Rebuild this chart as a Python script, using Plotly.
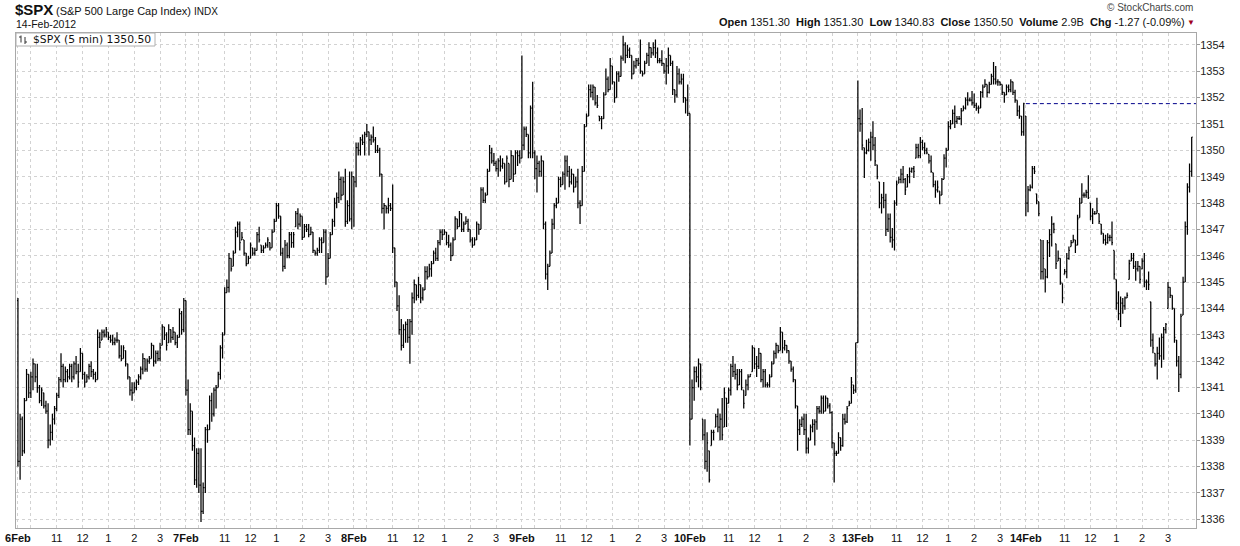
import plotly.graph_objects as go

# ---------------- data: $SPX 5-minute bars, 78 bars per session ----------------
day_labels = ["6Feb", "7Feb", "8Feb", "9Feb", "10Feb", "13Feb", "14Feb"]
hour_labels = ["", "11", "12", "1", "2", "3"]          # 10:00 grid line has no label
hour_offsets = [6, 18, 30, 42, 54, 66]                 # bars after the 9:30 open
bars_per_day = 78
first_open = 1344.3
volume_text = "2.9B"

feb06_high = [1344.4,1340.0,1339.9,1340.6,1341.7,1341.5,1341.6,1342.1,1341.9,1341.9,
              1341.1,1341.0,1340.8,1340.5,1340.4,1339.6,1340.0,1340.3,1340.8,1341.4,
              1342.3,1341.9,1341.8,1341.7,1341.9,1341.9,1342.0,1342.2,1341.9,1342.5,
              1342.3,1341.6,1341.5,1341.9,1342.0,1341.7,1341.6,1343.2,1343.1,1343.2,
              1343.2,1343.3,1343.1,1343.0,1343.0,1342.9,1343.1,1342.8,1342.6,1342.6,
              1342.4,1341.9,1341.4,1341.2,1341.2,1341.3,1341.5,1341.8,1342.3,1342.1,
              1342.1,1342.2,1342.7,1342.6,1342.4,1342.4,1342.7,1343.4,1343.3,1343.1,
              1343.4,1343.2,1343.3,1343.1,1343.0,1344.0,1343.9,1344.4]
feb06_low = [1338.0,1337.5,1338.4,1338.5,1340.5,1340.6,1340.6,1340.9,1341.2,1340.8,
             1340.4,1340.3,1340.2,1340.0,1338.7,1338.8,1339.0,1339.6,1340.1,1340.6,
             1341.2,1341.0,1341.2,1341.2,1341.3,1341.2,1341.3,1341.5,1341.0,1341.6,
             1341.3,1341.0,1341.2,1341.3,1341.4,1341.3,1341.2,1341.3,1342.5,1342.8,
             1342.9,1342.9,1342.8,1342.7,1342.6,1342.6,1342.7,1342.1,1342.0,1342.1,
             1341.8,1341.3,1340.7,1340.5,1340.8,1340.9,1341.1,1341.3,1341.5,1341.6,
             1341.6,1341.9,1342.1,1341.8,1341.9,1342.0,1342.0,1342.6,1342.8,1342.4,
             1342.7,1342.7,1342.8,1342.6,1342.5,1342.9,1343.0,1343.1]
feb06_close = [1338.2,1339.8,1338.6,1340.5,1341.5,1340.8,1341.4,1341.9,1341.4,1341.0,
               1340.5,1340.9,1340.3,1340.1,1339.0,1339.3,1339.8,1340.2,1340.7,1341.3,
               1341.8,1341.3,1341.6,1341.4,1341.8,1341.4,1341.9,1341.6,1341.2,1342.3,
               1341.5,1341.2,1341.4,1341.8,1341.6,1341.5,1341.3,1342.9,1342.7,1343.1,
               1343.0,1343.2,1342.9,1342.8,1342.7,1342.8,1342.8,1342.2,1342.1,1342.5,
               1341.9,1341.4,1340.9,1340.8,1341.0,1341.2,1341.4,1341.7,1342.1,1341.7,
               1342.0,1342.1,1342.6,1342.0,1342.3,1342.1,1342.5,1343.3,1343.0,1342.6,
               1343.2,1342.9,1343.1,1342.7,1342.9,1343.8,1343.2,1344.3]

feb07_high = [1344.3,1341.3,1340.4,1340.1,1339.1,1338.7,1338.7,1338.7,1337.4,1339.5,
              1339.6,1340.7,1340.8,1341.0,1341.1,1341.6,1342.6,1343.1,1344.8,1345.1,
              1346.1,1345.9,1346.2,1347.1,1347.3,1347.3,1346.9,1346.6,1346.1,1346.0,
              1346.5,1346.3,1346.3,1346.9,1347.1,1346.4,1346.4,1346.5,1346.7,1346.5,
              1347.0,1347.4,1348.0,1348.0,1347.5,1346.3,1346.6,1346.5,1346.9,1346.9,
              1346.9,1347.7,1347.8,1347.6,1347.5,1347.2,1347.2,1347.2,1347.1,1346.9,
              1346.2,1346.3,1346.7,1346.7,1347.0,1347.0,1346.1,1346.9,1347.4,1348.2,
              1348.4,1349.2,1349.0,1349.0,1349.3,1348.1,1349.2,1349.2]
feb07_low = [1340.7,1339.2,1339.2,1338.6,1337.3,1337.2,1337.0,1335.9,1336.2,1337.0,
             1338.9,1339.4,1339.7,1339.9,1340.2,1341.0,1341.3,1342.1,1343.0,1344.6,
             1344.6,1345.4,1345.6,1346.1,1346.7,1346.2,1346.6,1346.0,1345.6,1345.7,
             1345.9,1346.0,1346.0,1346.2,1346.5,1346.1,1346.1,1346.3,1346.3,1346.2,
             1346.3,1346.9,1347.3,1347.4,1346.0,1345.4,1345.5,1345.9,1345.9,1346.3,
             1346.3,1347.1,1347.0,1347.1,1346.6,1346.7,1346.9,1346.7,1346.8,1346.1,
             1346.0,1346.0,1346.1,1346.1,1346.5,1344.9,1345.2,1345.9,1346.8,1347.1,
             1347.8,1348.0,1348.1,1348.3,1347.1,1347.2,1347.3,1347.0]
feb07_close = [1340.9,1339.4,1340.1,1338.8,1337.5,1338.5,1337.3,1336.3,1337.2,1339.4,
               1339.4,1340.5,1340.0,1340.9,1341.0,1341.5,1342.5,1343.0,1344.6,1344.8,
               1345.9,1345.5,1346.1,1346.9,1347.2,1346.5,1346.7,1346.1,1345.7,1345.9,
               1346.4,1346.1,1346.2,1346.8,1346.6,1346.2,1346.3,1346.4,1346.6,1346.3,
               1346.9,1347.3,1347.9,1347.5,1346.1,1345.6,1346.4,1346.0,1346.8,1346.5,
               1346.8,1347.6,1347.2,1347.5,1346.7,1347.1,1347.0,1346.8,1346.9,1346.2,
               1346.1,1346.2,1346.6,1346.5,1346.9,1345.2,1345.9,1346.8,1347.3,1348.0,
               1348.2,1348.9,1348.3,1348.8,1347.3,1347.9,1347.4,1349.0]

feb08_high = [1349.0,1350.3,1350.3,1350.5,1350.6,1350.7,1351.0,1350.7,1350.6,1350.9,
              1350.5,1350.2,1350.1,1349.1,1348.0,1347.9,1348.2,1348.0,1348.7,1346.3,
              1345.0,1344.5,1343.6,1343.4,1343.5,1343.6,1343.6,1344.6,1345.1,1344.9,
              1345.2,1344.9,1344.8,1345.6,1345.6,1345.7,1345.8,1346.2,1346.3,1346.6,
              1347.0,1347.0,1347.0,1346.9,1346.8,1346.5,1346.7,1347.5,1347.4,1347.7,
              1347.6,1347.3,1347.5,1347.4,1347.0,1346.7,1346.7,1347.3,1347.2,1348.6,
              1348.6,1348.4,1349.3,1350.2,1350.1,1349.9,1349.6,1349.7,1349.8,1349.7,
              1349.5,1349.8,1349.5,1350.0,1349.8,1350.0,1350.0,1350.0]
feb08_low = [1347.1,1348.6,1349.8,1349.8,1350.2,1349.8,1350.5,1349.8,1350.2,1350.3,
             1349.9,1349.9,1349.0,1347.6,1347.0,1347.6,1347.6,1347.7,1346.1,1344.8,
             1343.9,1343.0,1342.4,1342.5,1342.7,1342.7,1341.9,1343.0,1344.2,1344.3,
             1344.4,1344.2,1344.3,1344.7,1345.1,1345.2,1345.2,1345.7,1345.8,1345.8,
             1346.4,1346.6,1346.8,1346.4,1346.3,1345.8,1346.0,1346.6,1347.0,1347.1,
             1346.9,1346.9,1347.2,1346.9,1346.5,1346.3,1346.4,1346.6,1346.8,1347.0,
             1348.0,1348.0,1348.3,1349.2,1349.5,1349.4,1349.2,1349.0,1349.2,1349.3,
             1348.7,1348.8,1348.6,1348.9,1348.8,1349.1,1349.4,1349.5]
feb08_close = [1348.8,1350.1,1350.0,1350.4,1350.3,1350.6,1350.7,1350.4,1350.5,1350.4,
               1350.0,1350.0,1349.1,1347.8,1347.9,1347.8,1347.9,1347.8,1346.3,1345.0,
               1344.1,1343.2,1342.6,1343.2,1343.4,1342.9,1343.5,1344.4,1344.9,1344.5,
               1344.9,1344.4,1344.7,1345.4,1345.2,1345.5,1345.7,1346.1,1345.9,1346.5,
               1346.9,1346.8,1346.9,1346.5,1346.4,1346.0,1346.6,1347.4,1347.1,1347.6,
               1347.0,1347.2,1347.3,1347.0,1346.6,1346.4,1346.6,1347.2,1347.0,1348.5,
               1348.1,1348.3,1349.2,1349.9,1349.6,1349.5,1349.3,1349.6,1349.4,1349.5,
               1348.8,1349.7,1348.9,1349.8,1349.1,1349.9,1349.8,1349.7]

feb09_high = [1353.6,1350.9,1350.9,1350.6,1351.7,1352.6,1350.0,1349.8,1349.6,1349.8,
              1349.6,1347.3,1345.7,1346.2,1347.4,1348.0,1348.2,1349.0,1349.0,1349.2,
              1349.8,1349.8,1349.4,1349.3,1349.1,1349.0,1349.3,1348.1,1349.4,1351.0,
              1351.4,1352.5,1352.5,1352.5,1352.4,1352.1,1351.3,1351.3,1352.2,1353.1,
              1352.8,1353.5,1353.2,1352.6,1353.0,1353.0,1353.6,1354.35,1354.1,1354.0,
              1353.9,1353.6,1353.4,1353.5,1353.5,1354.2,1353.0,1353.4,1353.7,1354.1,
              1353.9,1354.1,1354.2,1353.9,1353.5,1353.8,1353.3,1353.5,1353.9,1353.6,
              1353.4,1352.3,1353.2,1353.1,1352.9,1352.9,1352.0,1352.5]
feb09_low = [1349.7,1350.0,1350.5,1349.7,1349.7,1349.7,1348.9,1348.4,1349.0,1349.0,
             1347.0,1345.1,1344.7,1345.6,1346.1,1347.0,1347.8,1348.0,1348.6,1348.7,
             1348.5,1349.0,1348.6,1348.7,1348.4,1348.6,1347.8,1347.2,1347.9,1349.2,
             1350.9,1351.3,1352.0,1351.9,1351.7,1351.6,1351.1,1350.8,1351.2,1352.1,
             1352.2,1352.3,1352.5,1351.8,1352.0,1352.6,1352.8,1353.4,1353.3,1353.5,
             1353.5,1352.7,1352.9,1353.1,1353.2,1352.9,1352.8,1352.9,1353.3,1353.2,
             1353.5,1353.6,1353.5,1353.3,1353.3,1353.2,1352.9,1352.5,1352.9,1353.2,
             1352.1,1351.8,1352.0,1352.5,1352.5,1351.8,1351.4,1351.3]
feb09_close = [1350.2,1350.8,1350.6,1349.9,1351.6,1349.9,1349.3,1349.5,1349.2,1349.6,
               1347.2,1345.3,1345.6,1346.1,1347.2,1347.9,1348.0,1348.9,1348.7,1349.1,
               1349.6,1349.2,1348.8,1349.1,1348.6,1348.8,1348.0,1347.9,1349.2,1350.9,
               1351.3,1352.3,1352.2,1352.4,1351.8,1351.7,1351.2,1351.2,1352.1,1352.7,
               1352.3,1353.2,1352.6,1352.0,1352.9,1352.8,1353.5,1354.0,1353.6,1353.8,
               1353.6,1352.9,1353.2,1353.4,1353.3,1353.0,1352.9,1353.3,1353.6,1353.9,
               1353.7,1353.9,1353.7,1353.4,1353.4,1353.3,1353.0,1353.2,1353.6,1353.3,
               1352.3,1352.1,1352.9,1352.6,1352.7,1352.0,1351.9,1351.4]

feb10_high = [1351.4,1341.3,1341.8,1341.8,1342.1,1341.9,1339.8,1339.8,1339.3,1338.6,
              1339.4,1339.4,1340.0,1340.2,1340.0,1340.6,1341.0,1340.6,1341.0,1341.9,
              1342.2,1341.9,1341.7,1341.7,1341.7,1340.9,1341.3,1341.5,1341.5,1342.6,
              1342.5,1342.2,1342.5,1342.3,1341.7,1341.7,1341.2,1341.5,1342.0,1342.4,
              1342.7,1342.6,1343.3,1343.1,1342.8,1342.6,1342.4,1342.0,1341.8,1341.3,
              1340.3,1339.8,1339.9,1340.0,1340.0,1339.1,1339.6,1339.8,1339.8,1340.3,
              1340.3,1340.7,1340.7,1340.7,1340.6,1340.4,1340.1,1338.9,1338.6,1339.3,
              1339.1,1340.0,1340.0,1340.3,1340.5,1341.4,1341.1,1342.7]
feb10_low = [1338.8,1339.8,1340.5,1341.2,1341.0,1340.9,1339.0,1337.9,1337.8,1337.4,
             1338.8,1339.0,1339.5,1339.3,1339.0,1339.0,1339.5,1339.5,1340.4,1340.7,
             1341.4,1341.3,1340.9,1341.1,1340.9,1340.2,1340.7,1340.9,1341.4,1341.6,
             1341.7,1341.4,1341.7,1341.2,1341.0,1341.0,1341.0,1341.0,1341.4,1341.9,
             1342.1,1342.3,1342.4,1342.3,1342.4,1342.3,1341.9,1341.6,1341.2,1340.2,
             1338.6,1339.2,1339.5,1339.2,1338.5,1338.5,1339.0,1339.3,1338.8,1339.4,
             1340.0,1340.0,1340.0,1340.1,1340.2,1340.0,1338.7,1337.4,1338.4,1338.5,
             1338.6,1338.75,1339.6,1339.65,1340.3,1340.4,1340.75,1340.8]
feb10_close = [1339.8,1341.0,1341.6,1341.4,1341.9,1341.0,1339.2,1338.2,1338.9,1337.5,
               1339.3,1339.3,1339.9,1339.5,1339.8,1339.2,1340.8,1340.4,1340.9,1341.8,
               1341.6,1341.5,1341.1,1341.6,1341.0,1340.4,1341.1,1341.4,1341.5,1342.5,
               1341.9,1341.8,1342.3,1341.3,1341.6,1341.1,1341.1,1341.4,1341.9,1342.3,
               1342.6,1342.4,1343.1,1342.5,1342.6,1342.4,1342.0,1341.7,1341.3,1340.3,
               1339.4,1339.6,1339.8,1339.4,1338.7,1339.0,1339.5,1339.6,1339.7,1340.2,
               1340.1,1340.6,1340.1,1340.6,1340.3,1340.05,1338.9,1338.5,1338.5,1339.1,
               1338.8,1339.8,1339.7,1340.2,1340.4,1341.2,1340.9,1342.7]

feb13_high = [1352.65,1351.55,1351.6,1350.1,1350.4,1350.45,1350.7,1351.1,1350.5,1349.45,
              1348.8,1348.35,1348.8,1348.35,1347.6,1347.6,1347.05,1348.1,1348.85,1349.0,
              1349.3,1349.4,1348.95,1349.1,1349.35,1349.35,1349.4,1350.25,1350.25,1350.5,
              1350.4,1350.3,1350.1,1349.85,1349.8,1349.15,1348.85,1348.85,1348.45,1348.95,
              1349.85,1350.1,1351.1,1351.15,1351.55,1351.7,1351.3,1351.3,1351.6,1351.7,
              1352.0,1352.2,1352.0,1352.25,1352.15,1351.8,1351.7,1352.25,1352.5,1352.7,
              1352.5,1352.6,1352.9,1353.35,1353.2,1352.7,1352.6,1352.5,1352.2,1352.5,
              1352.5,1352.7,1352.6,1352.3,1351.9,1351.7,1351.3,1351.8]
feb13_low = [1342.7,1350.7,1350.0,1348.95,1349.85,1349.95,1349.6,1350.0,1349.4,1348.9,
             1347.8,1347.6,1347.8,1346.75,1346.9,1346.5,1346.3,1346.2,1347.9,1348.75,
             1348.75,1348.75,1348.3,1348.6,1348.75,1349.15,1348.95,1349.7,1349.7,1349.7,
             1350.0,1349.85,1349.85,1349.5,1349.15,1348.6,1348.2,1348.4,1347.95,1348.3,
             1348.9,1349.35,1350.0,1350.8,1351.0,1350.85,1351.0,1351.15,1350.95,1351.5,
             1351.55,1351.7,1351.85,1351.7,1351.6,1351.5,1351.4,1351.6,1352.0,1352.4,
             1352.0,1352.15,1352.5,1352.5,1352.5,1352.45,1352.45,1352.1,1351.8,1352.1,
             1352.2,1352.2,1352.1,1351.8,1351.3,1351.2,1350.55,1350.55]
feb13_close = [1351.2,1351.0,1350.2,1349.9,1350.0,1350.3,1350.5,1350.2,1349.6,1349.0,
               1348.0,1348.2,1348.1,1347.0,1347.4,1346.7,1346.6,1348.0,1348.7,1348.9,
               1349.1,1348.9,1348.5,1349.0,1349.2,1349.3,1349.2,1350.1,1349.8,1350.3,
               1350.1,1350.0,1349.9,1349.6,1349.2,1348.7,1348.5,1348.6,1348.3,1348.9,
               1349.7,1350.0,1350.9,1351.0,1351.4,1351.1,1351.2,1351.2,1351.5,1351.6,
               1351.9,1351.9,1351.9,1351.8,1351.7,1351.6,1351.6,1352.2,1352.4,1352.5,
               1352.2,1352.5,1352.8,1352.7,1352.6,1352.6,1352.5,1352.2,1352.1,1352.4,
               1352.3,1352.6,1352.2,1351.9,1351.5,1351.3,1350.7,1351.77]

feb14_high = [1351.3,1348.65,1348.7,1349.4,1349.4,1348.35,1348.05,1346.6,1346.6,1345.5,
              1346.6,1347.0,1347.5,1347.25,1346.45,1346.2,1345.9,1344.95,1345.5,1346.1,
              1346.35,1346.6,1346.8,1346.6,1347.55,1348.2,1348.75,1348.4,1348.5,1349.05,
              1348.0,1347.8,1347.7,1348.2,1347.6,1347.2,1346.85,1346.8,1346.85,1346.8,
              1347.3,1346.2,1345.1,1344.65,1344.45,1344.4,1344.45,1344.6,1345.85,1346.1,
              1346.1,1345.8,1345.8,1345.6,1345.9,1346.1,1345.1,1345.4,1344.25,1343.05,
              1342.3,1342.55,1342.9,1343.05,1343.3,1343.45,1345.0,1344.8,1344.5,1344.0,
              1342.8,1342.2,1343.8,1345.2,1347.3,1348.75,1349.5,1350.5]
feb14_low = [1347.5,1347.65,1348.45,1348.55,1349.1,1347.95,1347.5,1345.1,1345.1,1344.6,
             1345.15,1345.95,1346.35,1346.85,1345.5,1345.8,1344.9,1344.2,1345.3,1345.15,
             1345.85,1346.35,1346.5,1346.1,1346.4,1347.45,1348.0,1348.2,1348.2,1348.15,
             1347.35,1347.2,1347.55,1347.6,1347.2,1346.8,1346.45,1346.4,1346.45,1346.55,
             1346.4,1345.1,1343.95,1343.55,1343.3,1343.8,1343.95,1344.4,1345.1,1345.8,
             1345.5,1345.05,1345.4,1344.95,1345.5,1344.8,1344.7,1344.7,1342.55,1342.3,
             1341.8,1341.3,1342.05,1341.75,1342.05,1343.05,1344.0,1344.4,1343.95,1342.7,
             1341.8,1340.83,1341.35,1343.75,1345.0,1346.8,1348.4,1349.0]
feb14_close = [1348.0,1348.5,1348.6,1349.3,1349.2,1348.1,1347.6,1345.4,1345.9,1345.2,
               1346.5,1346.8,1347.2,1347.0,1345.7,1345.9,1345.0,1344.4,1345.4,1345.9,
               1346.2,1346.5,1346.6,1346.4,1347.4,1348.0,1348.3,1348.3,1348.4,1348.2,
               1347.5,1347.6,1347.6,1347.7,1347.3,1346.9,1346.6,1346.5,1346.7,1346.7,
               1346.5,1345.3,1344.2,1343.8,1344.2,1344.1,1344.4,1344.5,1345.7,1345.9,
               1345.6,1345.5,1345.6,1345.1,1345.8,1345.0,1345.0,1344.9,1342.8,1342.5,
               1341.9,1342.3,1342.2,1342.9,1343.2,1343.4,1344.8,1344.5,1344.0,1342.9,
               1342.0,1341.5,1343.7,1345.0,1347.1,1348.6,1349.2,1350.5]

highs = feb06_high + feb07_high + feb08_high + feb09_high + feb10_high + feb13_high + feb14_high
lows = feb06_low + feb07_low + feb08_low + feb09_low + feb10_low + feb13_low + feb14_low
closes = feb06_close + feb07_close + feb08_close + feb09_close + feb10_close + feb13_close + feb14_close

# open of each 5-min bar = previous bar's close (kept inside the bar's range)
opens = []
prev = first_open
for h, l, c in zip(highs, lows, closes):
    opens.append(min(max(prev, l), h))
    prev = c

n = len(closes)
idx = list(range(n))

# ---------------- figure geometry (pixels) ----------------
W, H = 1240, 546
PL, PR, PT, PB = 16, 1196, 33, 528


def pxx(x):
    return (x - PL) / (PR - PL)


def pxy(y):
    return (PB - y) / (PB - PT)


tickvals, ticktext = [], []
for d, lab in enumerate(day_labels):
    base = d * bars_per_day
    tickvals.append(base)
    ticktext.append("<b>" + lab + "</b>")
    for off, hl in zip(hour_offsets, hour_labels):
        tickvals.append(base + off)
        ticktext.append(hl)

fig = go.Figure()
fig.add_trace(go.Ohlc(
    x=idx, open=opens, high=highs, low=lows, close=closes,
    increasing=dict(line=dict(color="black", width=1.25)),
    decreasing=dict(line=dict(color="black", width=1.25)),
    tickwidth=0.45, hoverinfo="skip", showlegend=False,
))

# previous-session close reference line on the last session
last_start = (len(day_labels) - 1) * bars_per_day
prev_close = feb13_close[-1]
fig.add_shape(type="line", xref="x", yref="y", x0=last_start, x1=547,
              y0=prev_close, y1=prev_close,
              line=dict(color="#00008b", width=1, dash="4px,3px"))

grid = "#d2d2d2"
fig.update_layout(
    width=W, height=H,
    margin=dict(l=PL, r=W - PR, t=PT, b=H - PB),
    paper_bgcolor="white", plot_bgcolor="white",
    font=dict(family="Liberation Sans, Arial, sans-serif", size=11, color="#222"),
    xaxis=dict(range=[-0.9, 547], tickmode="array", tickvals=tickvals, ticktext=ticktext,
               showgrid=True, gridcolor=grid, griddash="3px,3px", gridwidth=1,
               zeroline=False, showline=True, linecolor="#a8a8a8", mirror=True,
               ticks="", tickfont=dict(size=11, color="#111"), automargin=False,
               rangeslider=dict(visible=False)),
    yaxis=dict(range=[1335.67, 1354.45], side="right", tick0=1336, dtick=1,
               showgrid=True, gridcolor=grid, griddash="3px,3px", gridwidth=1,
               zeroline=False, showline=True, linecolor="#a8a8a8", mirror=True,
               ticks="outside", ticklen=3, tickcolor="#999", ticklabelstandoff=-2,
               tickfont=dict(size=11, color="#222"), automargin=False),
)

# inner legend box
fig.add_shape(type="rect", xref="paper", yref="paper",
              x0=pxx(16), x1=pxx(155), y0=pxy(46), y1=pxy(33),
              line=dict(color="#b0b0b0", width=1), fillcolor="white", layer="above")
# tiny OHLC glyph
for (x, y0, y1, ty, dx) in [(21, 35.5, 42.5, 37, -2), (25, 37, 44, 42, 2)]:
    fig.add_shape(type="line", xref="paper", yref="paper",
                  x0=pxx(x), x1=pxx(x), y0=pxy(y1), y1=pxy(y0),
                  line=dict(color="#333", width=1))
    fig.add_shape(type="line", xref="paper", yref="paper",
                  x0=pxx(x), x1=pxx(x + dx), y0=pxy(ty), y1=pxy(ty),
                  line=dict(color="#333", width=1))

last_close = closes[-1]
fig.add_annotation(xref="paper", yref="paper", x=pxx(31), y=pxy(39.5),
                   xanchor="left", yanchor="middle", showarrow=False,
                   text="$SPX (5 min) %.2f" % last_close,
                   font=dict(family="DejaVu Sans, Verdana, sans-serif", size=10.8, color="#111"))

# titles
fig.add_annotation(xref="paper", yref="paper", x=pxx(13), y=pxy(10),
                   xanchor="left", yanchor="middle", showarrow=False,
                   text="<b>$SPX</b>", font=dict(size=15, color="#111"))
fig.add_annotation(xref="paper", yref="paper", x=pxx(54), y=pxy(11),
                   xanchor="left", yanchor="middle", showarrow=False,
                   text="(S&P 500 Large Cap Index) <span style='font-size:10px'>INDX</span>",
                   font=dict(size=11, color="#111"))
fig.add_annotation(xref="paper", yref="paper", x=pxx(14), y=pxy(24),
                   xanchor="left", yanchor="middle", showarrow=False,
                   text="14-Feb-2012", font=dict(size=10.5, color="#111"))

day_open = opens[last_start]
day_high = max(feb14_high)
day_low = min(feb14_low)
chg = last_close - prev_close
pct = chg / prev_close * 100
stats = ("<b>Open</b> %.2f  <b>High</b> %.2f  <b>Low</b> %.2f  <b>Close</b> %.2f  "
         "<b>Volume</b> %s  <b>Chg</b> %.2f (%.2f%%)") % (day_open, day_high, day_low,
                                                      last_close, volume_text, chg, pct)
fig.add_annotation(xref="paper", yref="paper", x=pxx(1187), y=pxy(22),
                   xanchor="right", yanchor="middle", showarrow=False,
                   text=stats, font=dict(size=11, color="#111"))
fig.add_annotation(xref="paper", yref="paper", x=pxx(1191), y=pxy(22),
                   xanchor="center", yanchor="middle", showarrow=False,
                   text="▼", font=dict(size=8, color="#a00020"))
fig.add_annotation(xref="paper", yref="paper", x=pxx(1195), y=pxy(8),
                   xanchor="right", yanchor="middle", showarrow=False,
                   text="© StockCharts.com", font=dict(size=10, color="#444"))

# the page is exactly the figure size: drop the browser's default body margin
fig.write_html("out.html", config={"displayModeBar": False},
               post_script="document.body.style.margin='0';document.body.style.overflow='hidden';")
